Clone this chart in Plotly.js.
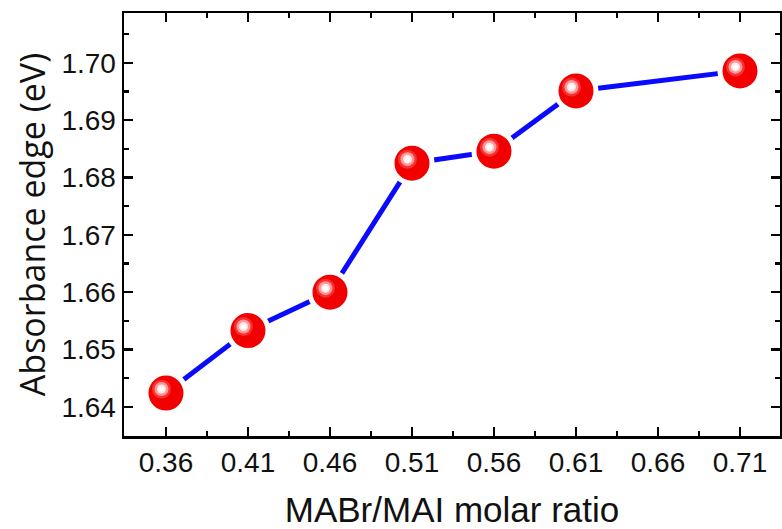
<!DOCTYPE html>
<html>
<head>
<meta charset="utf-8">
<script src="https://cdn.plot.ly/plotly-3.0.1.min.js"></script>
<style>html,body{margin:0;padding:0;background:#fff;}</style>
</head>
<body>
<div id="chart" style="width:782px;height:529px;"></div>
<script>
// MABr/MAI molar ratio vs. absorbance edge
const ratio  = [0.36, 0.41, 0.46, 0.51, 0.56, 0.61, 0.71];
const edgeEV = [1.6424, 1.6533, 1.6600, 1.6825, 1.6846, 1.6951, 1.6986];
const xTickVals = [0.36, 0.41, 0.46, 0.51, 0.56, 0.61, 0.66, 0.71];
const yTickVals = [1.64, 1.65, 1.66, 1.67, 1.68, 1.69, 1.70];

const W = 782, H = 529;
const M = {l: 124, r: 2, t: 13, b: 93};
const xRange = [0.3344, 0.7344];
const yRange = [1.6349, 1.7087];

// shine spot sits a few pixels up-left of each sphere centre:
// draw it on a hidden overlay axis pair shifted by that many pixels
const plotW = W - M.l - M.r, plotH = H - M.t - M.b;
const shineDX = 4.5, shineDY = 4;
const xPerPx = (xRange[1] - xRange[0]) / plotW;
const yPerPx = (yRange[1] - yRange[0]) / plotH;
const x2Range = [xRange[0] + shineDX * xPerPx, xRange[1] + shineDX * xPerPx];
const y2Range = [yRange[0] - shineDY * yPerPx, yRange[1] - shineDY * yPerPx];

const tickFont = {family: 'Liberation Sans, Arial, sans-serif', size: 28, color: '#111'};

const axisCommon = {
  showline: true, linewidth: 2.5, linecolor: '#000', mirror: 'ticks',
  ticks: 'inside', ticklen: 9, tickwidth: 2.5, tickcolor: '#000',
  showgrid: false, zeroline: false, tickfont: tickFont
};

// concentric shine layers: outer soft pink -> inner white
const shineLayers = [
  {size: 19, color: 'rgba(255,140,140,0.35)'},
  {size: 14, color: 'rgba(255,185,185,0.75)'},
  {size: 9,  color: 'rgba(255,235,235,0.95)'},
  {size: 5,  color: '#ffffff'}
];

const traces = [
  {
    x: ratio, y: edgeEV, type: 'scatter', mode: 'lines+markers',
    line: {color: '#0a0aff', width: 5},
    marker: {
      size: 40, color: '#f20000',
      line: {color: '#ffffff', width: 5}
    },
    hoverinfo: 'x+y'
  }
].concat(shineLayers.map(s => ({
  x: ratio, y: edgeEV, type: 'scatter', mode: 'markers',
  xaxis: 'x2', yaxis: 'y2',
  marker: {size: s.size, color: s.color, line: {width: 0}},
  hoverinfo: 'skip'
})));

const layout = {
  width: W, height: H,
  margin: M,
  paper_bgcolor: '#fff', plot_bgcolor: '#fff',
  showlegend: false,
  xaxis: Object.assign({}, axisCommon, {
    range: xRange, tickvals: xTickVals, tickformat: '.2f',
    minor: {ticks: 'inside', ticklen: 5, tickwidth: 2.5, tickcolor: '#000', tick0: 0.36, dtick: 0.025},
    title: {text: 'MABr/MAI molar ratio', font: {family: 'Liberation Sans, Arial, sans-serif', size: 35, color: '#111'}, standoff: 22}
  }),
  yaxis: Object.assign({}, axisCommon, {
    range: yRange, tickvals: yTickVals, tickformat: '.2f',
    minor: {ticks: 'inside', ticklen: 5, tickwidth: 2.5, tickcolor: '#000', tick0: 1.64, dtick: 0.005},
    title: {text: 'Absorbance edge (eV)', font: {family: 'Open Sans, sans-serif', size: 34, color: '#111'}, standoff: 6}
  }),
  xaxis2: {overlaying: 'x', anchor: 'y2', range: x2Range, visible: false, fixedrange: true},
  yaxis2: {overlaying: 'y', anchor: 'x2', range: y2Range, visible: false, fixedrange: true}
};

Plotly.newPlot('chart', traces, layout, {displayModeBar: false, staticPlot: true});
</script>
</body>
</html>
